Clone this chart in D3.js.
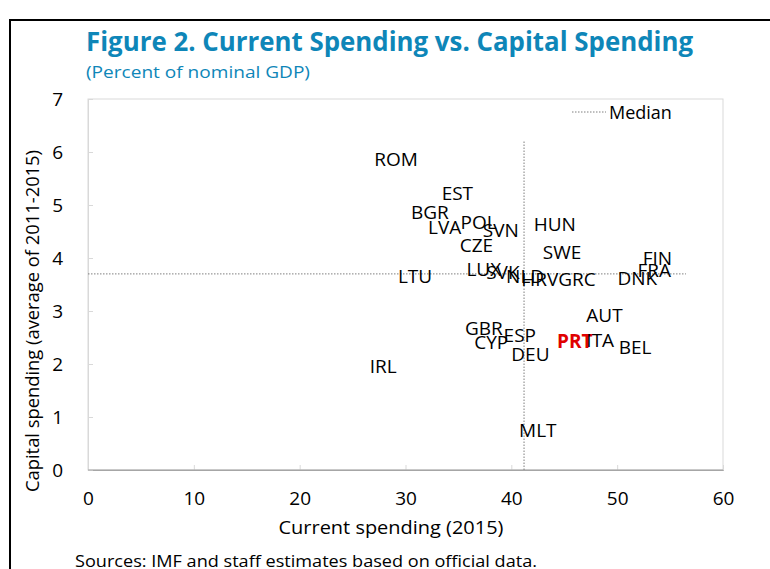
<!DOCTYPE html>
<html>
<head>
<meta charset="utf-8">
<script src="https://cdn.jsdelivr.net/npm/d3@7"></script>
<style>
  body { margin: 0; background: #fff; }
  svg { font-family: "Open Sans", "Noto Sans", sans-serif; }
</style>
</head>
<body>
<svg id="chart" width="770" height="569"></svg>
<script>
// country codes, current spending 2015 (x), capital spending avg 2011-2015 (y)
const countries = ['ROM','EST','BGR','LVA','POL','SVN','CZE','HUN','SWE','FIN','FRA','DNK','LTU','LUX','SVK','NLD','HRV','GRC','AUT','GBR','CYP','ESP','DEU','PRT','ITA','BEL','IRL','MLT'];
const currentSpending = [29.1,34.9,32.3,33.7,36.9,39.0,36.7,44.1,44.8,53.8,53.5,51.9,30.9,37.4,39.2,41.3,42.7,46.2,48.8,37.4,38.1,40.8,41.8,46.0,48.4,51.7,27.9,42.5];
const capitalSpending = [5.87,5.23,4.87,4.58,4.68,4.53,4.25,4.64,4.11,4.00,3.77,3.62,3.66,3.79,3.74,3.66,3.60,3.60,2.92,2.68,2.42,2.55,2.19,2.43,2.45,2.32,1.96,0.75];
const highlight = 'PRT';

const medianX = 41.2;     // current spending median
const medianY = 3.7;      // capital spending median
const medianXTop = 6.2;   // vertical median line runs 0..6.2
const medianYRight = 56.5; // horizontal median line runs 0..56.5

const xTicks = [0,10,20,30,40,50,60];
const yTicks = [0,1,2,3,4,5,6,7];

const svg = d3.select('#chart');
const blue = '#0e86b8';

let x = d3.scaleLinear().domain([0, 60]).range([88, 723]);
let y = d3.scaleLinear().domain([0, 7]).range([470, 99]);

// outer frame (left + top only)
svg.append('path')
  .attr('d', 'M10,569 L10,20 L770,20')
  .attr('fill', 'none')
  .attr('stroke', '#000')
  .attr('stroke-width', 2);

// title
svg.append('text')
  .attr('x', 86).attr('y', 51)
  .attr('fill', blue)
  .attr('font-weight', 700)
  .attr('font-size', 26)
  .attr('textLength', 607)
  .attr('lengthAdjust', 'spacingAndGlyphs')
  .text('Figure 2. Current Spending vs. Capital Spending');

svg.append('text')
  .attr('x', 86).attr('y', 78)
  .attr('fill', blue)
  .attr('font-size', 17)
  .attr('textLength', 224)
  .attr('lengthAdjust', 'spacingAndGlyphs')
  .text('(Percent of nominal GDP)');

// plot frame
svg.append('rect')
  .attr('x', x(0)).attr('y', y(7))
  .attr('width', x(60) - x(0)).attr('height', y(0) - y(7))
  .attr('fill', 'none')
  .attr('stroke', '#d9d9d9');

// axes
let xAxis = svg.append('g')
  .attr('transform', `translate(0,${y(0)})`)
  .call(d3.axisBottom(x).tickValues(xTicks).tickFormat(d3.format('d')).tickSize(-5).tickPadding(22));
xAxis.select('.domain').attr('stroke', '#a6a6a6');
xAxis.selectAll('.tick line').attr('stroke', '#d9d9d9');
xAxis.selectAll('.tick text').attr('font-size', 19).attr('fill', '#000').attr('font-family', 'Open Sans');

let yAxis = svg.append('g')
  .attr('transform', `translate(${x(0)},0)`)
  .call(d3.axisLeft(y).tickValues(yTicks).tickFormat(d3.format('d')).tickSize(-5).tickPadding(25));
yAxis.select('.domain').attr('stroke', '#d9d9d9');
yAxis.selectAll('.tick line').attr('stroke', '#d9d9d9');
yAxis.selectAll('.tick text').attr('font-size', 19).attr('fill', '#000').attr('font-family', 'Open Sans');
// keep bottom line darker
svg.append('line')
  .attr('x1', x(0)).attr('x2', x(60))
  .attr('y1', y(0)).attr('y2', y(0))
  .attr('stroke', '#a6a6a6');

// axis titles
svg.append('text')
  .attr('x', 391).attr('y', 534)
  .attr('text-anchor', 'middle')
  .attr('font-size', 18)
  .attr('textLength', 225)
  .attr('lengthAdjust', 'spacingAndGlyphs')
  .text('Current spending (2015)');

svg.append('text')
  .attr('transform', `translate(39,321) rotate(-90)`)
  .attr('text-anchor', 'middle')
  .attr('font-size', 18)
  .attr('textLength', 342)
  .attr('lengthAdjust', 'spacingAndGlyphs')
  .text('Capital spending (average of 2011-2015)');

// median lines
svg.append('line')
  .attr('x1', x(medianX)).attr('x2', x(medianX))
  .attr('y1', y(0)).attr('y2', y(medianXTop))
  .attr('stroke', '#7f7f7f').attr('stroke-dasharray', '1.5,1.5');
svg.append('line')
  .attr('x1', x(0)).attr('x2', x(medianYRight))
  .attr('y1', y(medianY)).attr('y2', y(medianY))
  .attr('stroke', '#7f7f7f').attr('stroke-dasharray', '1.5,1.5');

// legend
svg.append('line')
  .attr('x1', 572).attr('x2', 606).attr('y1', 112).attr('y2', 112)
  .attr('stroke', '#7f7f7f').attr('stroke-dasharray', '1.5,1.5');
svg.append('text')
  .attr('x', 609).attr('y', 119)
  .attr('font-size', 18)
  .text('Median');

// data labels centered on each point
let data = countries.map((c, i) => ({ name: c, cur: currentSpending[i], cap: capitalSpending[i] }));

svg.append('g').selectAll('text')
  .data(data)
  .join('text')
  .attr('x', d => x(d.cur))
  .attr('y', d => y(d.cap))
  .attr('dy', '0.36em')
  .attr('text-anchor', 'middle')
  .attr('font-size', 19)
  .attr('font-weight', d => d.name == highlight ? 700 : 400)
  .attr('fill', d => d.name == highlight ? '#e00000' : '#000')
  .text(d => d.name);

// source note
svg.append('text')
  .attr('x', 75).attr('y', 567)
  .attr('font-size', 17)
  .attr('textLength', 462)
  .attr('lengthAdjust', 'spacingAndGlyphs')
  .text('Sources: IMF and staff estimates based on official data.');
</script>
</body>
</html>
